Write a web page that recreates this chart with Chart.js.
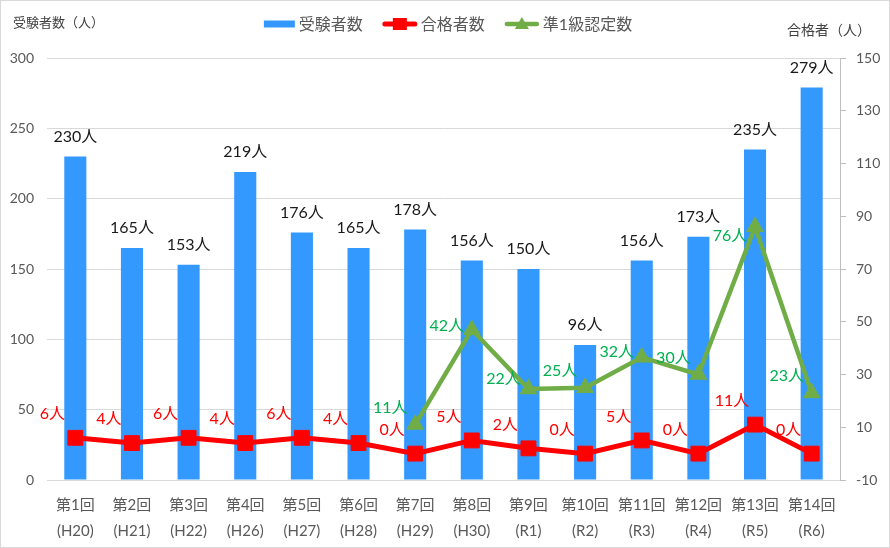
<!DOCTYPE html>
<html lang="ja">
<head>
<meta charset="utf-8">
<title>受験者数・合格者数の推移</title>
<script src="https://cdn.jsdelivr.net/npm/chart.js@4.4.1/dist/chart.umd.min.js"></script>
<style>
  html, body { margin: 0; padding: 0; background: #fff; }
  #wrap { width: 890px; height: 548px; box-sizing: border-box; border: 1px solid #d9d9d9; }
  canvas { display: block; }
</style>
</head>
<body>
<div id="wrap"><canvas id="chart" width="888" height="546"></canvas></div>
<script>
const FONT = 'Lato, "Noto Sans CJK JP", sans-serif';

const rounds = ['第1回','第2回','第3回','第4回','第5回','第6回','第7回','第8回','第9回','第10回','第11回','第12回','第13回','第14回'];
const eras = ['(H20)','(H21)','(H22)','(H26)','(H27)','(H28)','(H29)','(H30)','(R1)','(R2)','(R3)','(R4)','(R5)','(R6)'];

// 受験者数 (left axis)
const examinees = [230, 165, 153, 219, 176, 165, 178, 156, 150, 96, 156, 173, 235, 279];
// 合格者数 (right axis)
const passers = [6, 4, 6, 4, 6, 4, 0, 5, 2, 0, 5, 0, 11, 0];
const certified = [null, null, null, null, null, null, 11, 47, 24.5, 25, 36.5, 30, 86, 23];
const certifiedLabels = [null, null, null, null, null, null, 11, 42, 22, 25, 32, 30, 76, 23];

const leftTicks = { min: 0, max: 300, step: 50 };
const rightTicks = { min: -10, max: 150, step: 20 };

const BLUE = '#3399ff';
const RED = '#ff0000';
const GREEN = '#70ad47';
const AXIS_TEXT = '#595959';
const GRID = '#d9d9d9';

// draws "n人" next to each point; when a dataset has its own label values,
// the label sits at the height of that value on the dataset's axis
const valueLabels = {
  id: 'valueLabels',
  afterDatasetsDraw(chart) {
    const ctx = chart.ctx;
    ctx.save();
    ctx.font = '16px ' + FONT;
    ctx.textAlign = 'center';
    ctx.textBaseline = 'middle';
    chart.data.datasets.forEach((ds, i) => {
      const meta = chart.getDatasetMeta(i);
      const yScale = chart.scales[ds.yAxisID];
      meta.data.forEach((el, j) => {
        const v = ds.labelTexts ? ds.labelTexts[j] : ds.data[j];
        if (v === null || v === undefined) return;
        const y = ds.labelTexts ? yScale.getPixelForValue(v) : el.y;
        ctx.fillStyle = ds.labelColor;
        ctx.fillText(v + '人', el.x + ds.labelDx, y + ds.labelDy);
      });
    });
    ctx.restore();
  }
};

const titlesAndLegend = {
  id: 'titlesAndLegend',
  afterDraw(chart) {
    const ctx = chart.ctx;
    ctx.save();
    ctx.textBaseline = 'middle';
    ctx.fillStyle = '#404040';
    ctx.font = '13px ' + FONT;
    ctx.textAlign = 'left';
    ctx.fillText('受験者数（人）', 12, 22);
    ctx.font = '14px ' + FONT;
    ctx.textAlign = 'right';
    ctx.fillText('合格者（人）', 870, 29);

    // legend
    const items = [
      { text: '受験者数', kind: 'bar', w: 31 },
      { text: '合格者数', kind: 'rect', w: 34 },
      { text: '準1級認定数', kind: 'tri', w: 34 }
    ];
    ctx.font = '16px ' + FONT;
    ctx.textAlign = 'left';
    let total = 0;
    items.forEach((it, i) => {
      it.tw = ctx.measureText(it.text).width;
      total += it.w + 4 + it.tw + (i < items.length - 1 ? 20 : 0);
    });
    let x = 447 - total / 2;
    const y = 23;
    items.forEach(it => {
      if (it.kind === 'bar') {
        ctx.fillStyle = BLUE;
        ctx.fillRect(x, y - 3.5, it.w, 7);
      } else {
        const color = it.kind === 'rect' ? RED : GREEN;
        ctx.strokeStyle = color;
        ctx.lineWidth = it.kind === 'rect' ? 5 : 4.5;
        ctx.lineCap = 'round';
        ctx.beginPath();
        ctx.moveTo(x + 2, y);
        ctx.lineTo(x + it.w - 2, y);
        ctx.stroke();
        ctx.fillStyle = color;
        const cx = x + it.w / 2;
        if (it.kind === 'rect') {
          ctx.fillRect(cx - 7, y - 6, 14, 12);
        } else {
          ctx.beginPath();
          ctx.moveTo(cx, y - 7);
          ctx.lineTo(cx + 7, y + 5);
          ctx.lineTo(cx - 7, y + 5);
          ctx.closePath();
          ctx.fill();
        }
      }
      ctx.fillStyle = AXIS_TEXT;
      ctx.fillText(it.text, x + it.w + 4, y + 1);
      x += it.w + 4 + it.tw + 20;
    });
    ctx.restore();
  }
};

new Chart(document.getElementById('chart'), {
  data: {
    labels: rounds.map((r, i) => [r, eras[i]]),
    datasets: [
      {
        type: 'bar',
        label: '受験者数',
        data: examinees,
        yAxisID: 'y',
        backgroundColor: BLUE,
        barPercentage: 0.39,
        categoryPercentage: 1,
        order: 3,
        labelColor: '#1a1a1a',
        labelDx: 0,
        labelDy: -20
      },
      {
        type: 'line',
        label: '合格者数',
        data: passers,
        yAxisID: 'y2',
        borderColor: RED,
        backgroundColor: RED,
        borderWidth: 5,
        pointStyle: 'rect',
        pointRadius: 10.5,
        pointBorderWidth: 1,
        pointBackgroundColor: RED,
        pointBorderColor: RED,
        tension: 0,
        order: 1,
        labelColor: RED,
        labelDx: -23,
        labelDy: -24
      },
      {
        type: 'line',
        label: '準1級認定数',
        data: certified,
        labelTexts: certifiedLabels,
        yAxisID: 'y2',
        borderColor: GREEN,
        backgroundColor: GREEN,
        borderWidth: 4.5,
        pointStyle: 'triangle',
        pointRadius: 8.5,
        pointBorderWidth: 2,
        pointBackgroundColor: GREEN,
        pointBorderColor: GREEN,
        tension: 0,
        order: 2,
        labelColor: '#00b050',
        labelDx: -25,
        labelDy: -17
      }
    ]
  },
  options: {
    responsive: false,
    animation: false,
    layout: { padding: { top: 57, left: 0, right: 0, bottom: 0 } },
    plugins: {
      legend: { display: false },
      tooltip: { enabled: false }
    },
    scales: {
      x: {
        grid: { display: false, drawTicks: false },
        border: { display: true, color: GRID },
        ticks: {
          color: AXIS_TEXT,
          font: { family: FONT, size: 15, lineHeight: 1.74 },
          padding: 12,
          maxRotation: 0,
          autoSkip: false
        },
        afterFit: s => { s.height = 67; }
      },
      y: {
        position: 'left',
        min: leftTicks.min,
        max: leftTicks.max,
        grid: { color: GRID, drawTicks: false },
        border: { display: false },
        ticks: {
          stepSize: leftTicks.step,
          color: AXIS_TEXT,
          font: { family: FONT, size: 14 },
          padding: 13
        },
        afterFit: s => { s.width = 46; }
      },
      y2: {
        position: 'right',
        min: rightTicks.min,
        max: rightTicks.max,
        grid: { drawOnChartArea: false, drawTicks: true, tickLength: 6, color: '#bfbfbf' },
        border: { display: true, color: '#bfbfbf' },
        ticks: {
          stepSize: rightTicks.step,
          color: AXIS_TEXT,
          font: { family: FONT, size: 14 },
          padding: 10
        },
        afterFit: s => { s.width = 49; }
      }
    }
  },
  plugins: [valueLabels, titlesAndLegend]
});
</script>
</body>
</html>
